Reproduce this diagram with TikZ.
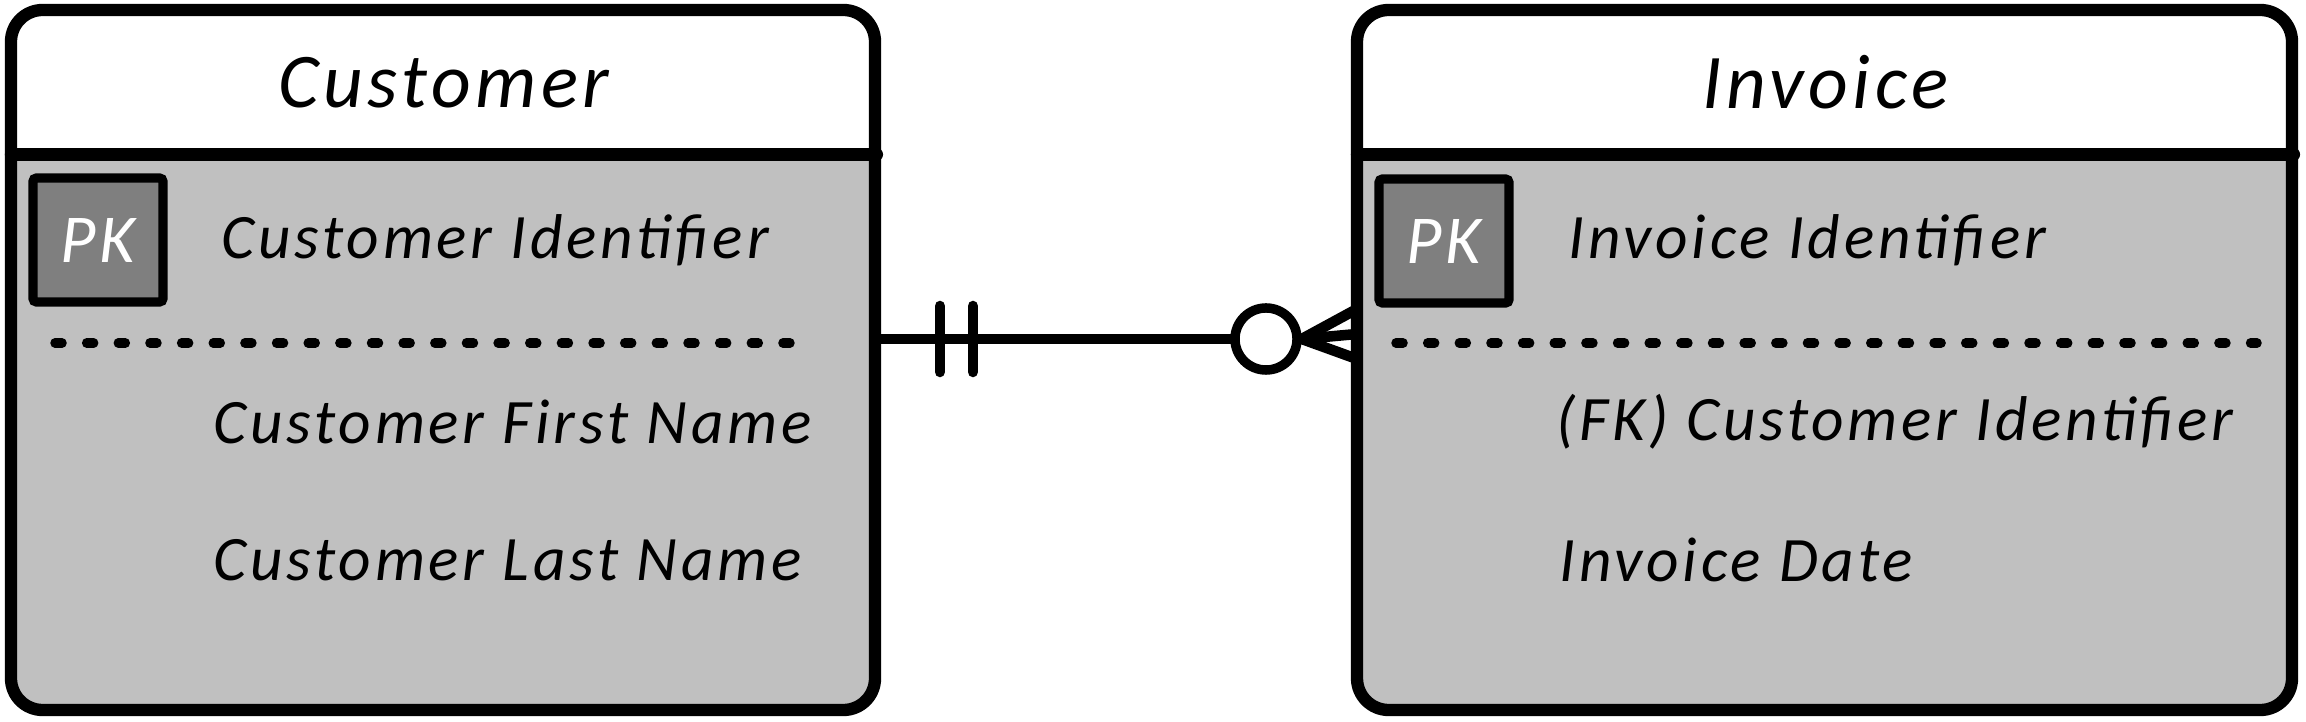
\documentclass[tikz,border=0pt]{standalone}
\usepackage{fontspec}
\newfontfamily\handfont{Carlito}[LetterSpace=6]
\usetikzlibrary{calc}

\definecolor{bodygray}{HTML}{C0C0C0}
\definecolor{keygray}{HTML}{7F7F7F}

\begin{document}
\begin{tikzpicture}[x=0.01cm,y=-0.01cm]
     % Define styles
     \tikzstyle{entityline} = [line width=3.5pt, rounded corners=9pt, line join=round, line cap=round]
     \tikzstyle{headbox} = [fill=white, inner sep=0pt, minimum height=1.43cm, font=\handfont\itshape\fontsize{22}{26}\selectfont]
     \tikzstyle{bodybox} = [fill=bodygray, inner sep=0pt]
     \tikzstyle{pkbox} = [draw, fill=keygray, line width=2.6pt, rounded corners=1pt, minimum width=1.3cm, minimum height=1.24cm, text=white, font=\handfont\itshape\fontsize{19.5}{22}\selectfont]
     \tikzstyle{attrtext} = [anchor=west, inner sep=0pt, font=\handfont\itshape\fontsize{18}{21}\selectfont]
     \tikzstyle{dotline} = [line width=2.7pt, line cap=round, dash pattern=on 2pt off 7pt]
     \tikzstyle{relline} = [line width=3pt, line cap=round]
     \tikzstyle{zeromark} = [circle, draw, fill=white, line width=2.7pt, minimum size=0.62cm, inner sep=0pt]

     \useasboundingbox (0,0) rectangle (2306,722);

     % Customer entity
     \coordinate (custnw) at (11,10);
     \coordinate (custse) at (875,710);
     \begin{scope}
          \clip[rounded corners=9pt] (custnw) rectangle (custse);
          \node[headbox, anchor=north west, minimum width=8.64cm] (custhead) at (custnw) {Customer};
          \node[bodybox, anchor=north west, minimum width=8.64cm, minimum height=5.57cm] (custbody) at (custhead.south west) {};
     \end{scope}
     \draw[entityline] (custnw) rectangle (custse);
     \draw[entityline] (custhead.south west) -- (custhead.south east);

     \node[pkbox] (custpk) at (98,240) {PK};
     \node[attrtext] (custid) at (221,240) {Customer Identifier};
     \draw[dotline] (55,343) -- (812,343);
     \node[attrtext] (custfirst) at (213,422) {Customer First Name};
     \node[attrtext] (custlast) at (213,560) {Customer Last Name};

     % Invoice entity
     \coordinate (invnw) at (1357,10);
     \coordinate (invse) at (2292,710);
     \begin{scope}
          \clip[rounded corners=9pt] (invnw) rectangle (invse);
          \node[headbox, anchor=north west, minimum width=9.35cm] (invhead) at (invnw) {Invoice};
          \node[bodybox, anchor=north west, minimum width=9.35cm, minimum height=5.57cm] (invbody) at (invhead.south west) {};
     \end{scope}
     \draw[entityline] (invnw) rectangle (invse);
     \draw[entityline] (invhead.south west) -- (invhead.south east);

     \node[pkbox] (invpk) at (1444,241) {PK};
     \node[attrtext] (invid) at (1568,240) {Invoice Identifier};
     \draw[dotline] (1396,343) -- (2257,343);
     \node[attrtext] (invfk) at (1556,422) {(FK) Customer Identifier};
     \node[attrtext] (invdate) at (1559,560) {Invoice Date};

     % One and only one -- zero or many
     \node[zeromark] (zero) at (1266,339) {};
     \draw[relline] (custbody.east |- zero) -- (zero);
     \foreach \dx in {63,96} {
          \draw[relline] ($(custbody.east |- zero)+(\dx,-33)$) -- ++(0,66);
     }
     \foreach \dy in {-30,-5,20} {
          \draw[relline] (zero.east) -- ($(invbody.west |- zero)+(0,\dy)$);
     }

\end{tikzpicture}
\end{document}
